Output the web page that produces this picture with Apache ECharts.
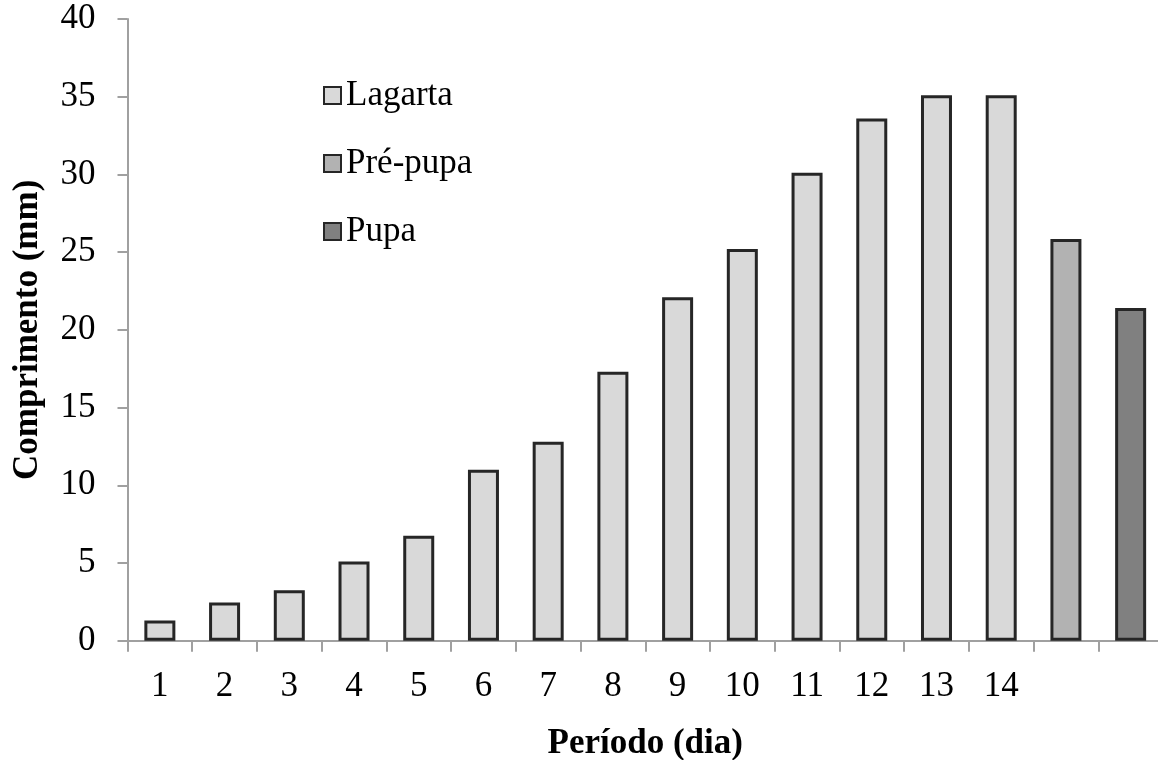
<!DOCTYPE html>
<html><head><meta charset="utf-8">
<script src="https://cdn.jsdelivr.net/npm/echarts@6/dist/echarts.min.js"></script>
<style>html,body{margin:0;padding:0;background:#fff}#c{width:1158px;height:760px}</style>
</head><body><div id="c"></div>
<script>
const categories = ['1','2','3','4','5','6','7','8','9','10','11','12','13','14','',''];
const lagarta = [1.3, 2.45, 3.25, 5.1, 6.75, 11.0, 12.8, 17.3, 22.1, 25.2, 30.1, 33.6, 35.1, 35.1, null, null];
const prePupa = [null, null, null, null, null, null, null, null, null, null, null, null, null, null, 25.85, null];
const pupa = [null, null, null, null, null, null, null, null, null, null, null, null, null, null, null, 21.4];
const seriesNames = ['Lagarta', 'Pré-pupa', 'Pupa'];
const yMin = 0, yMax = 40, yInterval = 5;

const FONT = '"Liberation Serif", "Times New Roman", serif';
const axisGrey = '#a0a0a0';
const border = { borderColor: '#262626', borderWidth: 3 };

const chart = echarts.init(document.getElementById('c'), null, { renderer: 'canvas' });
function bar(name, data, color) {
  return {
    name, type: 'bar', stack: 'all', data, barWidth: 31,
    itemStyle: Object.assign({ color }, border),
    emphasis: { disabled: true }
  };
}
chart.setOption({
  animation: false,
  backgroundColor: '#fff',
  grid: { left: 127.5, right: -5, top: 19, bottom: 119.3, outerBoundsMode: 'none', containLabel: false },
  legend: {
    orient: 'vertical', left: 318, top: 73, itemGap: 33,
    itemWidth: 17, itemHeight: 17, icon: 'rect',
    textStyle: { fontFamily: FONT, fontSize: 35, color: '#000' },
    data: seriesNames
  },
  xAxis: {
    type: 'category', data: categories,
    axisLine: { lineStyle: { color: axisGrey, width: 2 } },
    axisTick: { show: true, alignWithLabel: false, length: 11, lineStyle: { color: axisGrey, width: 2 } },
    axisLabel: { fontFamily: FONT, fontSize: 35, color: '#000', margin: 29, interval: 0 },
    name: 'Período (dia)', nameLocation: 'middle', nameGap: 86,
    nameTextStyle: { fontFamily: FONT, fontSize: 35, fontWeight: 'bold', color: '#000' }
  },
  yAxis: {
    type: 'value', min: yMin, max: yMax, interval: yInterval,
    splitLine: { show: false },
    axisLine: { show: true, lineStyle: { color: axisGrey, width: 2 } },
    axisTick: { show: true, length: 10, lineStyle: { color: axisGrey, width: 2 } },
    axisLabel: { fontFamily: FONT, fontSize: 35, color: '#000', margin: 32 },
    name: 'Comprimento (mm)', nameLocation: 'middle', nameGap: 82,
    nameTextStyle: { fontFamily: FONT, fontSize: 35, fontWeight: 'bold', color: '#000' }
  },
  series: [
    bar(seriesNames[0], lagarta, '#d9d9d9'),
    bar(seriesNames[1], prePupa, '#b2b2b2'),
    bar(seriesNames[2], pupa, '#808080')
  ]
});
</script></body></html>
